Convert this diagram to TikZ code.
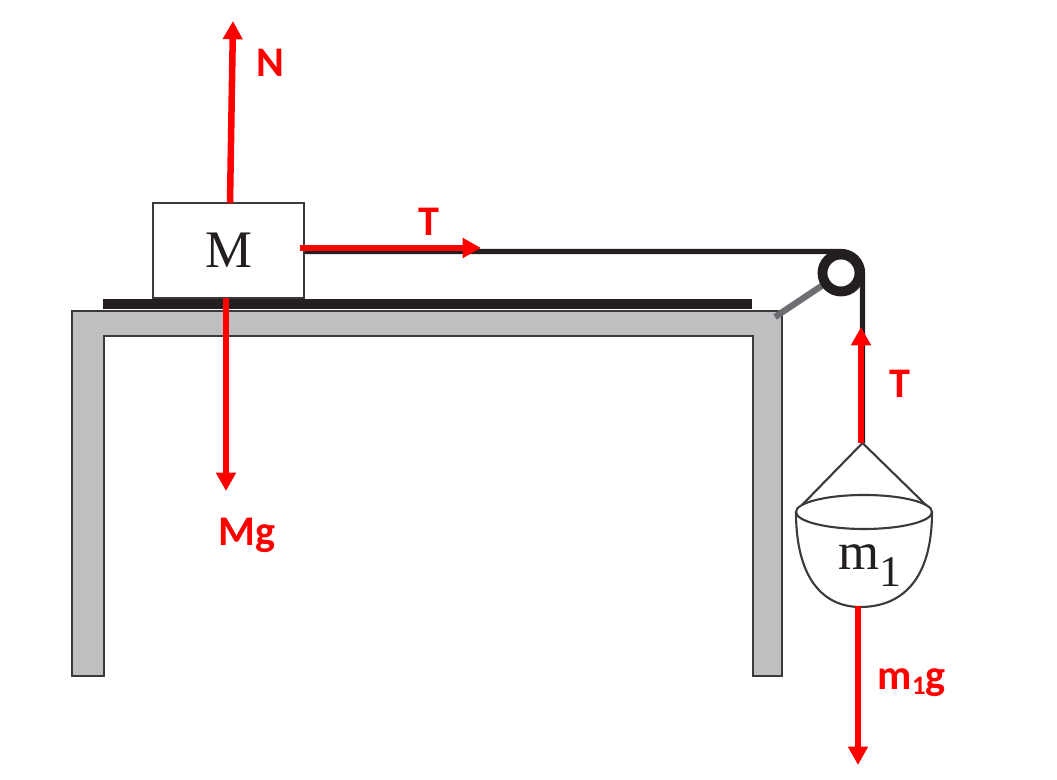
\documentclass[tikz,border=0pt]{standalone}
\usepackage{fontspec}
\setmainfont{Liberation Serif}
\newfontfamily\lblfont{Carlito}
\usetikzlibrary{arrows.meta}
\definecolor{forcered}{HTML}{FF0000}
\definecolor{inkblack}{HTML}{231F20}
\definecolor{tablegray}{HTML}{BEBFC1}
\definecolor{edgegray}{HTML}{3A3A3A}
\definecolor{armgray}{HTML}{6D6E71}
\begin{document}
\begin{tikzpicture}[x=0.01cm,y=-0.01cm,
  force/.style={draw=forcered, line width=1.85pt, -{Triangle[length=5.2pt,width=5.4pt]}},
  flabel/.style={text=forcered, font=\lblfont\bfseries\fontsize{12}{12}\selectfont, inner sep=0pt, anchor=base west},
  stringline/.style={draw=inkblack, line width=1.5pt},
  thinline/.style={draw=edgegray, line width=0.6pt},
  serifmass/.style={font=\fontsize{15}{15}\selectfont, text=inkblack}]
\useasboundingbox (0,0) rectangle (1057,780);
% table
\path[draw=edgegray, fill=tablegray, line width=0.6pt]
  (72,676) -- (72,311) -- (782,311) -- (782,676) -- (753,676) -- (753,336)
  -- (104,336) -- (104,676) -- cycle;
% plate
\fill[inkblack] (103,299) rectangle (752,309);
% block
\node[draw=edgegray, fill=white, line width=0.5pt, minimum width=1.51cm,
  minimum height=0.95cm, inner sep=0pt, serifmass] (blk) at (228.5,250.5) {M};
% pulley arm
\coordinate (armfoot) at (775,317);
\coordinate (armtop) at (823,285);
\draw[armgray, line width=1.8pt] (armfoot) -- (armtop);
% string
\coordinate (apex) at (862.5,443);
\draw[stringline] (blk.east |- 0,251.5) -- (841,251.5) arc[start angle=-90, end angle=0, radius=21.5] -- (apex);
% pulley
\node[circle, draw=inkblack, line width=2.8pt, minimum size=0.37cm, inner sep=0pt] (pulley) at (841,273) {};
% bucket
\draw[thinline, fill=white] (796,512) .. controls (796,582) and (826,607) .. (860,607)
  .. controls (900,607) and (932,582) .. (932,512);
\draw[thinline] (864,512) ellipse [x radius=68, y radius=17];
\coordinate (rimleft) at (802,505);
\coordinate (rimright) at (926,505);
\draw[thinline] (rimleft) -- (apex) -- (rimright);
\node[anchor=base west, inner sep=0pt, serifmass] (mlbl) at (838,570) {m\raisebox{-4.8pt}{\fontsize{12.5}{12.5}\selectfont 1}};
% forces
\coordinate (Nbase) at (230,203);
\coordinate (Ntip) at (233,21);
\coordinate (Mgbase) at (226,298);
\coordinate (Mgtip) at (226,491);
\coordinate (Tbase) at (300,248);
\coordinate (Ttip) at (481,248);
\coordinate (T2base) at (861,443);
\coordinate (T2tip) at (861,327);
\coordinate (mgbase) at (858,606);
\coordinate (mgtip) at (858,765);
\draw[force] (Nbase) -- (Ntip);
\draw[force] (Mgbase) -- (Mgtip);
\draw[force] (Tbase) -- (Ttip);
\draw[force] (T2base) -- (T2tip);
\draw[force] (mgbase) -- (mgtip);
% labels
\node[flabel] (Nlbl) at (256,77) {N};
\node[flabel] (Tlbl) at (418,236) {T};
\node[flabel] (T2lbl) at (889,398) {T};
\node[flabel] (Mglbl) at (218,546) {Mg};
\node[flabel] (mglbl) at (877,690) {m\raisebox{-1.4pt}{\fontsize{7.6}{7.6}\selectfont 1}g};
\end{tikzpicture}
\end{document}
